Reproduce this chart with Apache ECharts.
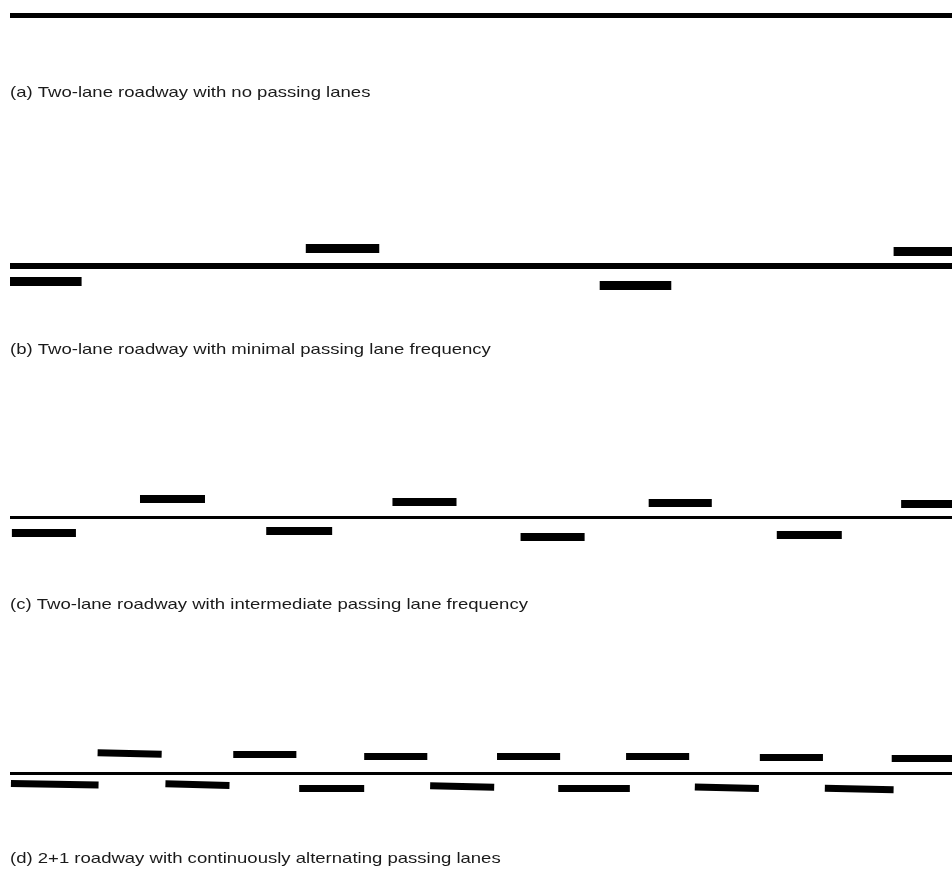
<!DOCTYPE html>
<html>
<head>
<meta charset="utf-8">
<script src="https://cdn.jsdelivr.net/npm/echarts@6/dist/echarts.min.js"></script>
<style>
html,body{margin:0;padding:0;background:#ffffff;}
#chart{width:952px;height:870px;}
</style>
</head>
<body>
<div id="chart"></div>
<script>
// ---- data (distance along road: 0..100 of visible length; offset: lateral, + = above road) ----
const captions = [
  "(a) Two-lane roadway with no passing lanes",
  "(b) Two-lane roadway with minimal passing lane frequency",
  "(c) Two-lane roadway with intermediate passing lane frequency",
  "(d) 2+1 roadway with continuously alternating passing lanes"
];
const roadExtent = [0, 100];
// passing lanes: [start, end, offsetAtStart, offsetAtEnd]
const lanesA = [];
const lanesB = [
  [31.4, 39.2, 17.5, 17.5],
  [93.8, 100, 14.7, 14.7],
  [0.0, 7.6, -15.0, -15.0],
  [62.6, 70.2, -19.7, -19.7]
];
const lanesC = [
  [13.8, 20.7, 19.2, 19.2],
  [40.6, 47.4, 16.2, 16.2],
  [67.8, 74.5, 14.3, 14.3],
  [94.6, 100, 13.7, 13.7],
  [0.2, 7.0, -14.8, -14.8],
  [27.2, 34.2, -12.8, -12.8],
  [54.2, 61.0, -19.0, -19.0],
  [81.4, 88.3, -17.7, -17.7]
];
const lanesD = [
  [9.3, 16.1, 20.8, 19.3],
  [23.7, 30.4, 18.8, 18.8],
  [37.6, 44.3, 17.2, 17.2],
  [51.7, 58.4, 17.2, 17.2],
  [65.4, 72.1, 17.2, 17.2],
  [79.6, 86.3, 15.8, 15.8],
  [93.6, 100, 15.5, 15.5],
  [0.1, 9.4, -10.0, -11.5],
  [16.5, 23.3, -10.3, -12.0],
  [30.7, 37.6, -14.8, -14.8],
  [44.6, 51.4, -12.3, -13.7],
  [58.2, 65.8, -14.8, -14.8],
  [72.7, 79.5, -13.5, -15.0],
  [86.5, 93.8, -14.8, -16.2]
];
const panelLanes = [lanesA, lanesB, lanesC, lanesD];

// ---- layout / style ----
const roadCenters = [15, 266, 517.5, 773.5];
const captionY = [93, 350, 605, 859];
const roadWidths = [5, 6, 3, 3];
const laneWidths = [0, 9, 8, 7];
const textScaleX = 1.235;

const grids = [], xAxes = [], yAxes = [], series = [], graphics = [];
panelLanes.forEach(function (lanes, i) {
  const half = i === 0 ? 15 : 30;
  grids.push({ left: 10, right: 0, top: roadCenters[i] - half, height: half * 2, containLabel: false });
  xAxes.push({ type: 'value', gridIndex: i, min: roadExtent[0], max: roadExtent[1], show: false });
  yAxes.push({ type: 'value', gridIndex: i, min: -half, max: half, show: false });
  const data = [{
    coords: [[roadExtent[0], 0], [roadExtent[1], 0]],
    lineStyle: { width: roadWidths[i] }
  }];
  lanes.forEach(function (l) {
    data.push({ coords: [[l[0], l[2]], [l[1], l[3]]], lineStyle: { width: laneWidths[i] } });
  });
  series.push({
    type: 'lines',
    coordinateSystem: 'cartesian2d',
    xAxisIndex: i,
    yAxisIndex: i,
    polyline: false,
    silent: true,
    clip: false,
    lineStyle: { color: '#000000', opacity: 1, curveness: 0, cap: 'butt' },
    data: data
  });
  graphics.push({
    type: 'text',
    x: 10,
    y: captionY[i],
    scaleX: textScaleX,
    scaleY: 1,
    silent: true,
    style: {
      text: captions[i],
      fill: '#1a1a1a',
      font: '15px "Liberation Sans", Arial, sans-serif',
      textAlign: 'left',
      textVerticalAlign: 'middle'
    }
  });
});

const chart = echarts.init(document.getElementById('chart'), null, { renderer: 'canvas' });
chart.setOption({
  animation: false,
  backgroundColor: '#ffffff',
  grid: grids,
  xAxis: xAxes,
  yAxis: yAxes,
  series: series,
  graphic: graphics
});
</script>
</body>
</html>
